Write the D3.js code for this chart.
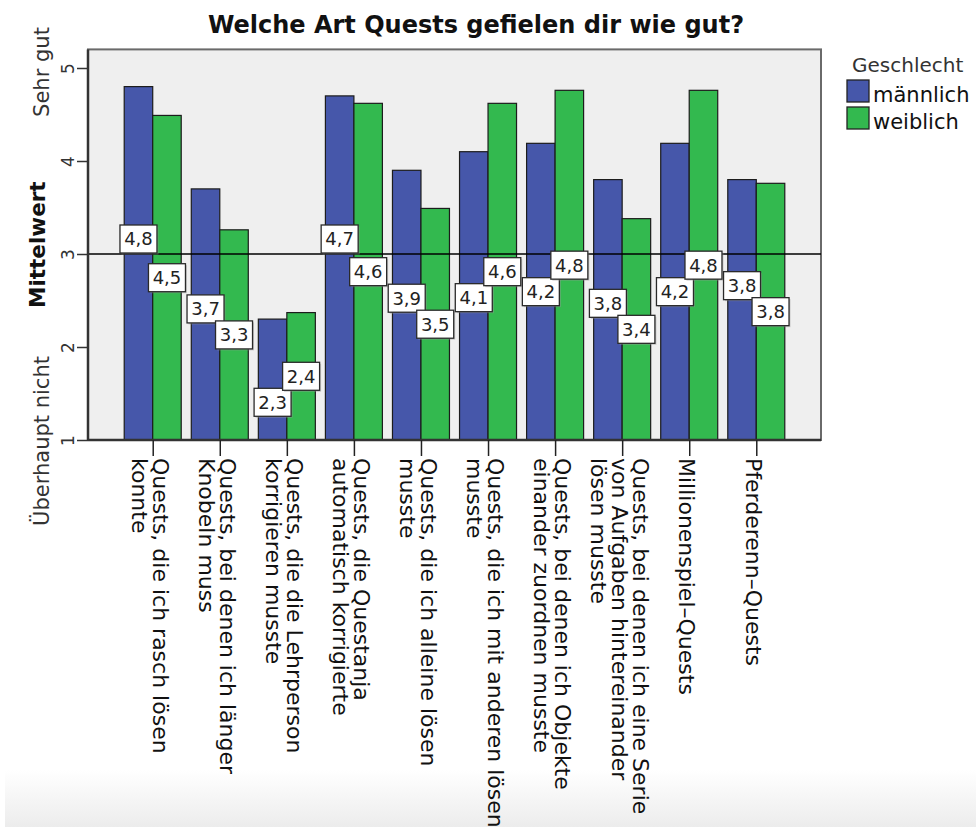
<!DOCTYPE html>
<html>
<head>
<meta charset="utf-8">
<script src="https://cdn.jsdelivr.net/npm/d3@7"></script>
<style>
  html, body { margin: 0; padding: 0; background: #fff; }
  svg { display: block; font-family: "DejaVu Sans", sans-serif; }
</style>
</head>
<body>
<svg id="chart" width="976" height="827"></svg>
<script>
// Mean ratings per quest type, split by gender (1 = überhaupt nicht, 5 = sehr gut)
const categories = [
  ["Quests, die ich rasch lösen", "konnte"],
  ["Quests, bei denen ich länger", "Knobeln muss"],
  ["Quests, die die Lehrperson", "korrigieren musste"],
  ["Quests, die Questanja", "automatisch korrigierte"],
  ["Quests, die ich alleine lösen", "musste"],
  ["Quests, die ich mit anderen lösen", "musste"],
  ["Quests, bei denen ich Objekte", "einander zuordnen musste"],
  ["Quests, bei denen ich eine Serie", "von Aufgaben hintereinander", "lösen musste"],
  ["Millionenspiel–Quests"],
  ["Pferderenn–Quests"]
];
const seriesNames = ["männlich", "weiblich"];
const maleValues   = [4.80, 3.70, 2.30, 4.70, 3.90, 4.10, 4.19, 3.80, 4.19, 3.80];
const femaleValues = [4.49, 3.26, 2.37, 4.62, 3.49, 4.62, 4.76, 3.38, 4.76, 3.76];
const yTicks = [1, 2, 3, 4, 5];
const yEndLabels = [{ v: 1, text: "Überhaupt nicht" }, { v: 5, text: "Sehr gut" }];
const referenceValue = 3;
const chartTitle = "Welche Art Quests gefielen dir wie gut?";
const yTitle = "Mittelwert";
const legendTitle = "Geschlecht";

const colors = ["#4657aa", "#33b94f"];

const svg = d3.select("#chart");
const W = 976, H = 827;
const plot = { left: 88, right: 821, top: 49.4, bottom: 440 };

// soft grey fade along the bottom edge
const defs = svg.append("defs");
const grad = defs.append("linearGradient").attr("id", "fade").attr("x1", 0).attr("y1", 0).attr("x2", 0).attr("y2", 1);
grad.append("stop").attr("offset", "0%").attr("stop-color", "#ffffff");
grad.append("stop").attr("offset", "100%").attr("stop-color", "#ececec");
svg.append("rect").attr("x", 5).attr("y", 770).attr("width", W - 5).attr("height", H - 770).attr("fill", "url(#fade)");

const idx = d3.range(categories.length);
const x0 = d3.scaleBand().domain(idx).range([plot.left, plot.right]).paddingInner(0.15).paddingOuter(0.54);
const x1 = d3.scaleBand().domain([0, 1]).range([0, x0.bandwidth()]).padding(0);
const y = d3.scaleLinear().domain([1, 5.2]).range([plot.bottom, plot.top]);

// plot background
svg.append("rect")
  .attr("x", plot.left).attr("y", plot.top)
  .attr("width", plot.right - plot.left).attr("height", plot.bottom - plot.top)
  .attr("fill", "#efefef").attr("stroke", "#6a6a6a").attr("stroke-width", 2);

// bars
const rows = idx.map(i => [maleValues[i], femaleValues[i]]);
const groups = svg.append("g").selectAll("g").data(rows).join("g")
  .attr("transform", (d, i) => `translate(${x0(i)},0)`);
groups.selectAll("rect").data(d => d.map((v, s) => ({ v, s }))).join("rect")
  .attr("x", d => x1(d.s))
  .attr("y", d => y(d.v))
  .attr("width", x1.bandwidth())
  .attr("height", d => y(1) - y(d.v))
  .attr("fill", d => colors[d.s])
  .attr("stroke", "#1c1c1c").attr("stroke-width", 1.2);

// reference line
svg.append("line")
  .attr("x1", plot.left).attr("x2", plot.right)
  .attr("y1", y(referenceValue)).attr("y2", y(referenceValue))
  .attr("stroke", "#000").attr("stroke-width", 1.3);

// y axis
const yAxis = d3.axisLeft(y).tickValues(yTicks).tickSize(11).tickFormat(d3.format("d"));
const gy = svg.append("g").attr("transform", `translate(${plot.left},0)`).call(yAxis);
gy.select(".domain").attr("stroke", "#333").attr("stroke-width", 2.5).attr("d", `M0,${plot.top}V${plot.bottom}`);
gy.selectAll(".tick line").attr("stroke", "#333").attr("stroke-width", 1.5);
gy.selectAll(".tick text")
  .attr("x", null).attr("dy", null)
  .attr("transform", "translate(-14,0) rotate(-90)")
  .attr("text-anchor", "middle")
  .attr("font-family", "DejaVu Sans").attr("font-size", 17).attr("fill", "#333");

// x axis
const xAxis = d3.axisBottom(d3.scalePoint().domain(idx).range([x0(0) + x0.bandwidth() / 2, x0(idx.length - 1) + x0.bandwidth() / 2]))
  .tickSize(16).tickFormat("");
const gx = svg.append("g").attr("transform", `translate(0,${plot.bottom})`).call(xAxis);
gx.select(".domain").attr("stroke", "#333").attr("stroke-width", 2.5).attr("d", `M${plot.left},0H${plot.right}`);
gx.selectAll(".tick line").attr("stroke", "#222").attr("stroke-width", 1.5);

// category labels, rotated and centred on each tick
const lblSize = 22, lblLH = 21;
const catLabels = svg.append("g").selectAll("text").data(categories).join("text")
  .attr("transform", (d, i) => `translate(${x0(i) + x0.bandwidth() / 2},${plot.bottom + 18}) rotate(90)`)
  .attr("font-size", lblSize).attr("fill", "#111");
catLabels.selectAll("tspan").data(d => d.map((t, k) => ({ t, k, n: d.length }))).join("tspan")
  .attr("x", 0)
  .attr("y", d => (d.k - (d.n - 1) / 2) * lblLH + lblLH / 2)
  .text(d => d.t);

// axis titles
svg.append("text")
  .attr("transform", `translate(45,${(plot.top + plot.bottom) / 2}) rotate(-90)`)
  .attr("text-anchor", "middle").attr("font-weight", "bold").attr("font-size", 21.5).attr("fill", "#111")
  .text(yTitle);
svg.append("g").selectAll("text").data(yEndLabels).join("text")
  .attr("transform", d => `translate(49,${y(d.v) + (d.v === 5 ? 4 : 1)}) rotate(-90)`)
  .attr("text-anchor", "middle").attr("font-size", 21).attr("fill", "#333")
  .text(d => d.text);

// title
svg.append("text")
  .attr("x", 476).attr("y", 33)
  .attr("text-anchor", "middle").attr("font-weight", "bold").attr("font-size", 24).attr("fill", "#111")
  .text(chartTitle);

// value labels: weiblich labels sit at their bar centres, männlich labels
// are moved to the nearest spot clear of them and of the reference line
const fmt = v => d3.format(".1f")(v).replace(".", ",");
const boxW = 37, boxH = 28, sep = 26, lineGap = 15;
const labelData = [];
idx.forEach(i => {
  const mid = v => (y(v) + y(1)) / 2;
  const fx = x0(i) + x1(1) + x1.bandwidth() / 2;
  const fy = mid(femaleValues[i]);
  const mx = x0(i) + x1(0) + x1.bandwidth() / 2;
  const target = mid(maleValues[i]);
  const blocked = [[fy - sep, fy + sep], [y(referenceValue) - lineGap, y(referenceValue) + lineGap]];
  const inside = p => blocked.some(([a, b]) => p > a + 1e-6 && p < b - 1e-6);
  const cands = [target, ...blocked.flat()].filter(p => !inside(p));
  const my = cands.reduce((best, p) => Math.abs(p - target) < Math.abs(best - target) ? p : best, cands[0]);
  labelData.push({ x: mx, y: my, v: maleValues[i] });
  labelData.push({ x: fx, y: fy, v: femaleValues[i] });
});
const lbl = svg.append("g").selectAll("g").data(labelData).join("g")
  .attr("transform", d => `translate(${d.x},${d.y})`);
lbl.append("rect")
  .attr("x", -boxW / 2 + 1.5).attr("y", -boxH / 2 + 1.5).attr("width", boxW).attr("height", boxH)
  .attr("fill", "#9a9a9a").attr("opacity", 0.45);
lbl.append("rect")
  .attr("x", -boxW / 2).attr("y", -boxH / 2).attr("width", boxW).attr("height", boxH)
  .attr("fill", "#fff").attr("stroke", "#2a2a2a").attr("stroke-width", 1.3);
lbl.append("text")
  .attr("text-anchor", "middle").attr("dy", "0.36em")
  .attr("font-size", 18).attr("fill", "#222")
  .text(d => fmt(d.v));

// legend
const lg = svg.append("g");
lg.append("text").attr("x", 852).attr("y", 72).attr("font-size", 20).attr("fill", "#333").text(legendTitle);
const li = lg.selectAll("g").data(seriesNames).join("g")
  .attr("transform", (d, i) => `translate(847,${80 + i * 27})`);
li.append("rect").attr("width", 22).attr("height", 22)
  .attr("fill", (d, i) => colors[i]).attr("stroke", "#222").attr("stroke-width", 1.3);
li.append("text").attr("x", 26).attr("y", 22).attr("font-size", 21).attr("fill", "#111").text(d => d);
</script>
</body>
</html>
